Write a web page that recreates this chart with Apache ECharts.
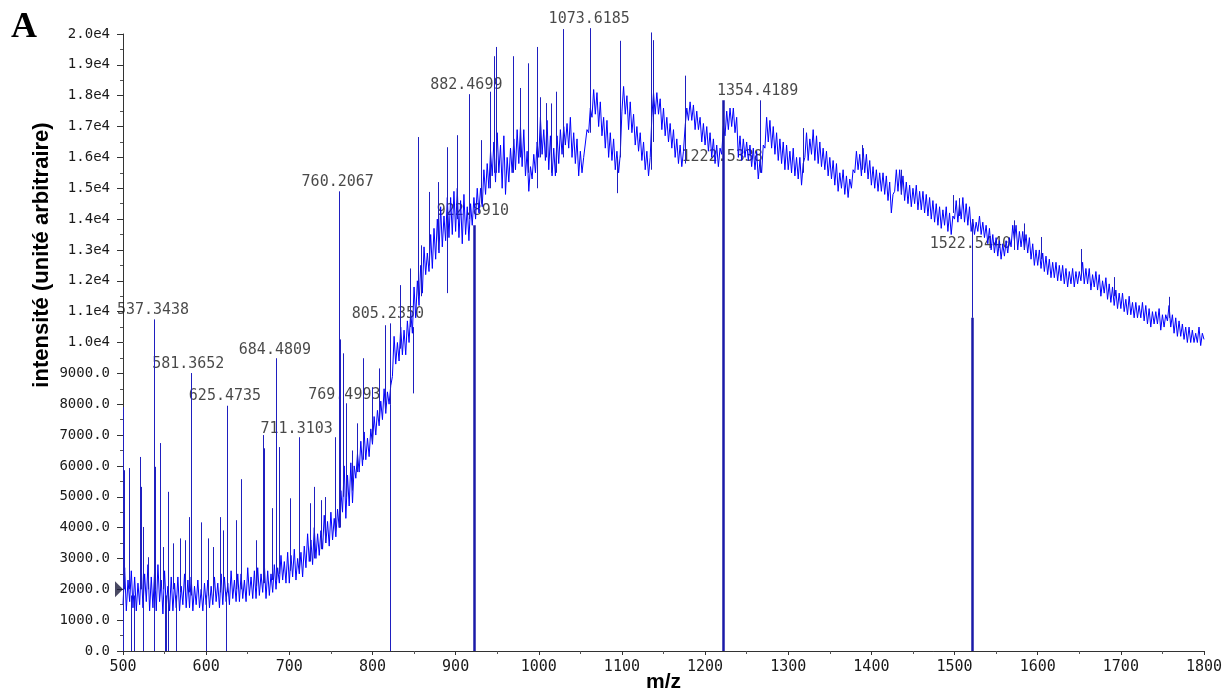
<!DOCTYPE html>
<html>
<head>
<meta charset="utf-8">
<script src="https://cdn.jsdelivr.net/npm/echarts@6/dist/echarts.min.js"></script>
<style>
  html, body { margin: 0; padding: 0; background: #fff; }
  #chart-container { width: 1225px; height: 693px; }
</style>
</head>
<body>
<div id="chart-container"></div>
<script>
const traceStartMz = 500;
const traceStepMz = 2;
const traceIntensity = [
  1500, 2700, 1300, 2300, 1600, 2600, 1400, 2400, 1300, 2200, // 500
  1500, 2700, 1400, 2500, 1600, 2800, 1300, 2400, 1400, 2600, // 520
  1300, 2800, 1600, 2300, 1200, 2600, 1400, 2100, 1300, 2400, // 540
  1300, 2200, 1400, 2400, 1300, 2100, 1500, 2500, 1400, 2300, // 560
  1400, 2400, 1300, 2100, 1500, 2300, 1400, 2000, 1300, 2200, // 580
  1500, 2300, 1400, 2100, 1500, 2400, 1600, 2200, 1400, 2500, // 600
  1500, 2400, 1600, 2200, 1500, 2600, 1700, 2300, 1600, 2500, // 620
  1600, 2500, 1700, 2300, 1600, 2700, 1800, 2400, 1700, 2600, // 640
  1700, 2700, 1800, 2500, 1900, 2800, 1700, 2600, 1800, 2500, // 660
  1900, 2800, 2000, 2700, 2200, 3100, 2300, 2900, 2200, 3200, // 680
  2200, 3100, 2400, 3300, 2300, 3000, 2500, 3200, 2400, 3400, // 700
  2700, 3800, 2900, 3600, 2800, 4000, 3000, 3800, 3100, 3900, // 720
  3300, 4400, 3500, 4200, 3400, 4500, 3600, 4300, 3700, 4600, // 740
  4000, 5200, 4500, 6000, 4300, 5700, 4700, 6100, 4800, 6000, // 760
  5600, 6400, 5800, 6800, 6000, 7100, 6200, 6900, 6300, 7200, // 780
  6700, 7600, 7000, 7800, 7300, 8100, 7500, 8500, 7700, 8400, // 800
  8000, 8600, 8900, 10200, 9300, 10000, 9400, 10500, 9600, 10400, // 820
  9600, 10700, 10000, 11000, 10300, 11800, 10800, 12000, 11200, 12500, // 840
  11600, 13100, 12200, 12900, 12300, 13500, 12400, 13700, 12700, 14000, // 860
  12900, 14400, 13100, 14100, 13300, 14700, 13400, 14700, 13500, 14900, // 880
  13600, 15000, 13400, 14600, 13200, 14800, 13500, 14400, 13300, 14500, // 900
  13800, 14700, 14000, 15000, 14200, 15000, 14400, 15600, 14800, 15800, // 920
  15000, 16200, 15400, 16500, 15200, 16800, 15500, 16400, 15000, 16700, // 940
  14800, 16000, 15200, 16300, 15500, 16600, 15600, 16900, 15800, 17000, // 960
  15700, 16900, 15400, 16200, 14900, 15700, 15300, 16100, 15500, 16500, // 980
  16000, 17300, 16100, 16900, 15900, 17200, 15600, 16700, 15400, 16300, // 1000
  15400, 16700, 15800, 16900, 16100, 17000, 16400, 17100, 16300, 17300, // 1020
  16000, 16800, 15800, 16600, 15400, 16200, 15500, 16000, 16000, 16900, // 1040
  16800, 17600, 17300, 18200, 17400, 18100, 17000, 17800, 16700, 17300, // 1060
  16300, 17200, 16000, 16800, 15900, 16600, 15600, 16200, 15500, 16100, // 1080
  17500, 18300, 17400, 18000, 16900, 17800, 16800, 17400, 16400, 17000, // 1100
  16200, 16800, 15900, 16500, 15600, 16200, 15400, 16000, 17300, 18100, // 1120
  17400, 18100, 17400, 17900, 16900, 17600, 16700, 17300, 16500, 17100, // 1140
  16300, 16900, 16000, 16600, 15800, 16400, 15700, 16200, 17000, 17600, // 1160
  17200, 17800, 17200, 17700, 16900, 17500, 16900, 17300, 16500, 17100, // 1180
  16400, 17000, 16200, 16800, 16000, 16600, 15800, 16400, 15700, 16300, // 1200
  16100, 17000, 16700, 17500, 16900, 17600, 17000, 17600, 16800, 17300, // 1220
  16000, 16700, 15900, 16600, 16000, 16500, 15900, 16400, 15700, 16300, // 1240
  15600, 16200, 15300, 15900, 15500, 16400, 16300, 17300, 16500, 17200, // 1260
  16300, 17000, 16100, 16800, 15900, 16600, 15800, 16500, 15600, 16400, // 1280
  15600, 16200, 15500, 16300, 15400, 16000, 15300, 16000, 15100, 15800, // 1300
  16000, 16800, 15900, 16600, 16100, 16900, 15900, 16700, 15800, 16500, // 1320
  15700, 16300, 15600, 16200, 15400, 16000, 15300, 15900, 15100, 15800, // 1340
  14900, 15500, 15000, 15600, 14800, 15400, 14700, 15300, 15000, 15600, // 1360
  15500, 16200, 15600, 16100, 15400, 16300, 15500, 16100, 15300, 15900, // 1380
  15100, 15700, 15000, 15600, 14900, 15500, 14900, 15500, 14800, 15400, // 1400
  14600, 15200, 14200, 14800, 14900, 15600, 14900, 15600, 14800, 15400, // 1420
  14600, 15200, 14500, 15100, 14400, 15000, 14500, 15100, 14300, 14900, // 1440
  14300, 14900, 14200, 14800, 14100, 14700, 14000, 14600, 13900, 14500, // 1460
  13800, 14400, 13700, 14300, 13800, 14400, 13600, 14200, 13500, 14100, // 1480
  14000, 14600, 13900, 14500, 14000, 14700, 13900, 14500, 13800, 14400, // 1500
  13600, 14000, 13500, 13900, 13600, 14100, 13500, 13900, 13400, 13800, // 1520
  13200, 13700, 13000, 13500, 12900, 13400, 12800, 13300, 12700, 13200, // 1540
  12800, 13300, 12900, 13400, 13100, 13800, 13300, 13800, 13000, 13600, // 1560
  13100, 13600, 13000, 13500, 12900, 13400, 12700, 13200, 12500, 13000, // 1580
  12500, 13000, 12400, 12900, 12300, 12800, 12200, 12700, 12100, 12600, // 1600
  12100, 12600, 12000, 12500, 12000, 12500, 11900, 12400, 11800, 12300, // 1620
  11900, 12400, 11800, 12300, 11900, 12300, 12000, 12600, 11900, 12400, // 1640
  11900, 12400, 11700, 12200, 11800, 12300, 11700, 12200, 11500, 12000, // 1660
  11600, 12100, 11400, 11900, 11300, 11800, 11200, 11700, 11100, 11600, // 1680
  11100, 11600, 11000, 11400, 10900, 11500, 10900, 11300, 10800, 11300, // 1700
  10800, 11200, 10800, 11300, 10700, 11200, 10600, 11100, 10500, 11000, // 1720
  10600, 11000, 10600, 11100, 10400, 10900, 10500, 10900, 10700, 11200, // 1740
  10500, 10900, 10300, 10800, 10200, 10700, 10200, 10600, 10100, 10500, // 1760
  10000, 10500, 10000, 10400, 10000, 10300, 10000, 10500, 9900, 10300,  // 1780
  10100                                                                  // 1800
];

// narrow peaks: [m/z, foot, tip]
const spikes = [
  [500.4, 0, 7900], [501.6, 2000, 5860], [507.2, 2000, 5930], [510.5, 1800, 0],
  [513.6, 1800, 0], [520.4, 2000, 6290], [522.4, 2000, 5320], [524.4, 0, 4020],
  [530.5, 2000, 3040], [537.6, 0, 10750], [538.4, 2000, 5970], [545.3, 2000, 6740],
  [548.5, 2000, 3370], [550.5, 1800, 0], [552.5, 1800, 0], [554.0, 0, 5160],
  [560.5, 2000, 3490], [564.5, 1800, 0], [568.5, 1900, 3650], [574.5, 1900, 3590],
  [579.3, 1900, 4340], [581.7, 1800, 9010], [593.8, 1800, 4170], [599.8, 1800, 0],
  [602.6, 1800, 3650], [608.6, 1800, 3370], [616.6, 1900, 4340], [620.6, 1900, 3910],
  [623.8, 1900, 0], [625.4, 1900, 7950], [636.6, 2000, 4240], [642.2, 2000, 5570],
  [660.6, 2100, 3590], [668.3, 2200, 7000], [669.5, 2200, 6570], [679.9, 2300, 4630],
  [683.9, 2300, 9490], [687.9, 2500, 6610], [700.7, 2600, 4950], [711.5, 2600, 6930],
  [724.8, 2900, 4790], [729.6, 3000, 5320], [738.0, 3300, 4890], [742.8, 3500, 4990],
  [754.8, 3900, 6930], [760.0, 4000, 14900], [760.8, 4000, 10100], [764.8, 5000, 9650],
  [768.8, 5000, 8030], [776.0, 5200, 6500], [781.6, 5800, 7380], [788.8, 6200, 9490],
  [800.1, 6800, 8550], [808.1, 7500, 9160], [814.9, 7800, 10560], [820.9, 8000, 10620],
  [821.6, 8000, 0], [832.9, 9800, 11860], [845.0, 10500, 12400], [849.0, 10500, 8350],
  [855.0, 11500, 16660], [859.0, 11500, 13150], [867.8, 12500, 14880], [879.0, 13000, 15200],
  [890.0, 11600, 16330], [902.3, 14000, 16720], [916.2, 14000, 18050], [930.3, 14500, 16560],
  [941.1, 15000, 18130], [946.3, 15500, 19280], [948.3, 15500, 19580], [969.1, 15500, 19280],
  [977.2, 16000, 18250], [987.1, 15500, 19050], [998.4, 15000, 19580], [1001.2, 16000, 17950],
  [1009.2, 16000, 17760], [1015.3, 15500, 17750], [1021.2, 15500, 18130], [1029.2, 16000, 20160],
  [1062.5, 16800, 20190], [1094.0, 16000, 14840], [1097.4, 16000, 19780], [1135.4, 15600, 20050],
  [1137.4, 16500, 19800], [1176.3, 15800, 18650], [1266.8, 15500, 17850], [1317.7, 15500, 16950],
  [1389.0, 15600, 16400], [1436.0, 14800, 15600], [1498.0, 14200, 14780], [1506.0, 14100, 14680],
  [1521.6, 14000, 10800], [1572.0, 13000, 13960], [1584.0, 13000, 13860], [1604.0, 12700, 13420],
  [1652.0, 12200, 13030], [1692.0, 11500, 12120], [1758.0, 10800, 11480]
];

// wide drop-outs to zero: [m/z, top, bottom]
const dropouts = [
  [923.0, 13800, 0], [1221.4, 17850, 0], [1521.6, 10800, 0]
];

const peakLabelText = [
  '537.3438', '581.3652', '625.4735', '684.4809', '711.3103', '760.2067', '769.4993',
  '805.2350', '882.4699', '922.8910', '1073.6185', '1222.5338', '1354.4189', '1522.5440'
];
const peakLabelMz = [
  536.1, 578.5, 622.6, 682.7, 708.8, 758.2, 766.2,
  818.5, 912.9, 920.7, 1060.7, 1220.5, 1263.2, 1519.0
];
const peakLabelIntensity = [
  11050, 9290, 8260, 9750, 7190, 15210, 8290,
  10910, 18340, 14270, 20470, 16020, 18150, 13190
];

const baselineMarker = [[500, 2000]];

const chart = echarts.init(document.getElementById('chart-container'));

const traceData = traceIntensity.map((v, i) => [traceStartMz + i * traceStepMz, v]);
const toSegments = (list) => list.map(([mz, a, b]) => ({ coords: [[mz, a], [mz, b]] }));

const tickFont = { fontFamily: 'DejaVu Sans Mono', color: '#1a1a1a' };

chart.setOption({
  animation: false,
  backgroundColor: '#fff',
  grid: { left: 123, right: 21, top: 34, bottom: 42, outerBoundsMode: 'none' },
  xAxis: {
    type: 'value',
    min: 500,
    max: 1800,
    interval: 100,
    name: 'm/z',
    nameLocation: 'middle',
    nameGap: 31,
    nameMoveOverlap: false,
    nameTextStyle: { fontFamily: 'Liberation Sans', fontWeight: 'bold', fontSize: 21, color: '#000', verticalAlign: 'middle' },
    axisLine: { lineStyle: { color: '#333', width: 1 } },
    axisTick: { length: 4, lineStyle: { color: '#333' } },
    minorTick: { show: true, splitNumber: 2, length: 3, lineStyle: { color: '#555' } },
    axisLabel: { ...tickFont, fontSize: 15, margin: 9, formatter: (v) => String(v) },
    splitLine: { show: false }
  },
  yAxis: {
    type: 'value',
    min: 0,
    max: 20000,
    interval: 1000,
    axisLine: { show: true, lineStyle: { color: '#333', width: 1 } },
    axisTick: { show: true, length: 6, lineStyle: { color: '#333' } },
    minorTick: { show: true, splitNumber: 2, length: 3, lineStyle: { color: '#555' } },
    axisLabel: {
      ...tickFont,
      fontSize: 14,
      margin: 13,
      formatter: (v) => v >= 10000 ? (v / 10000).toFixed(1) + 'e4' : v.toFixed(1)
    },
    splitLine: { show: false }
  },
  graphic: [
    {
      type: 'text',
      x: 24, y: 28,
      style: { text: 'A', font: 'bold 36px "Liberation Serif"', fill: '#000', align: 'center', verticalAlign: 'middle' }
    },
    {
      type: 'text',
      x: 42, y: 255,
      rotation: Math.PI / 2,
      style: {
        text: 'intensité (unité arbitraire)',
        font: 'bold 22px "Liberation Sans"', fill: '#000', align: 'center', verticalAlign: 'middle'
      }
    }
  ],
  series: [
    {
      name: 'labels',
      type: 'scatter',
      z: 1,
      clip: false,
      silent: true,
      symbolSize: 0,
      data: peakLabelMz.map((mz, i) => ({ value: [mz, peakLabelIntensity[i]], name: peakLabelText[i] })),
      label: {
        show: true,
        position: 'inside',
        formatter: '{b}',
        fontFamily: 'DejaVu Sans Mono',
        fontSize: 15,
        color: '#1a1a1a'
      }
    },
    {
      name: 'spectre',
      type: 'line',
      z: 2,
      symbol: 'none',
      clip: false,
      lineStyle: { color: '#0000ff', width: 1 },
      data: traceData
    },
    {
      name: 'pics',
      type: 'lines',
      coordinateSystem: 'cartesian2d',
      z: 3,
      clip: false,
      silent: true,
      lineStyle: { color: '#1f1fc0', width: 1, opacity: 1 },
      data: toSegments(spikes)
    },
    {
      name: 'trous',
      type: 'lines',
      coordinateSystem: 'cartesian2d',
      z: 3,
      clip: false,
      silent: true,
      lineStyle: { color: '#1a1aa8', width: 2.5, opacity: 1 },
      data: toSegments(dropouts)
    },
    {
      name: 'ligne de base',
      type: 'scatter',
      z: 4,
      clip: false,
      silent: true,
      symbol: 'triangle',
      symbolSize: [16, 8],
      symbolRotate: -90,
      symbolOffset: [-4, 0],
      itemStyle: { color: '#1c1c3c' },
      data: baselineMarker
    }
  ]
});
window.addEventListener('resize', chart.resize);
</script>
</body>
</html>
